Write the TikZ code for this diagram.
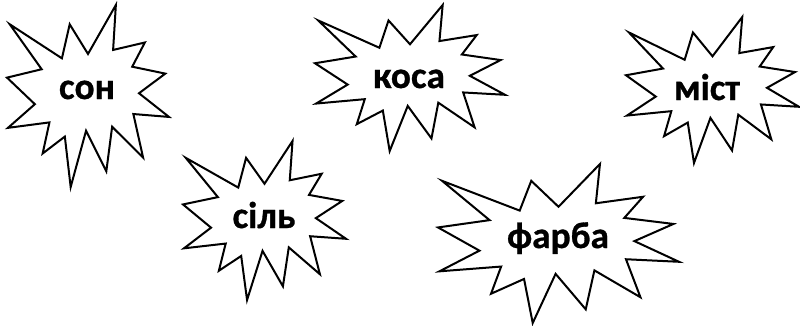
\documentclass[tikz,border=0pt]{standalone}
\usepackage{fontspec}
\setmainfont{Carlito}[BoldFeatures={FakeBold=0.8}]
\usepackage{tikz}

% explosion outline, bounding box given by left, top, width, height (in px)
\newcommand{\explosion}[4]{%
  \draw[burst, shift={(#1,#2)}, x={(#3*0.75pt,0pt)}, y={(0pt,-#4*0.75pt)}]
    (0.500,0.269) -- (0.672,0.000) -- (0.655,0.247) -- (0.851,0.206)
    -- (0.773,0.339) -- (0.977,0.377) -- (0.815,0.485) -- (1.000,0.615)
    -- (0.780,0.599) -- (0.840,0.838) -- (0.649,0.669) -- (0.613,0.914)
    -- (0.488,0.691) -- (0.393,1.000) -- (0.357,0.723) -- (0.220,0.816)
    -- (0.262,0.645) -- (0.006,0.675) -- (0.172,0.545) -- (0.000,0.399)
    -- (0.214,0.353) -- (0.017,0.106) -- (0.339,0.293) -- (0.387,0.106)
    -- cycle;
}

\begin{document}
\begin{tikzpicture}[x=0.75pt, y=-0.75pt]
	% Define styles for bursts and words
	\tikzset{
		burst/.style={
			draw=black,
			fill=white,
			line width=1.5pt,
			line join=miter
		},
		word/.style={
			anchor=base,
			inner sep=0pt,
			font=\fontsize{28}{34}\selectfont\bfseries
		}
	}
	\useasboundingbox (0,0) rectangle (800,325);
	
	% Bursts
	\explosion{7}{5}{162}{182}
	\explosion{315}{5}{190}{146}
	\explosion{626}{17}{173}{146}
	\explosion{183}{141}{163}{159}
	\explosion{438}{164}{241}{159}
	
	% Words
	\node[word] (son) at (87,99) {сон};
	\node[word] (kosa) at (409,88) {коса};
	\node[word] (mist) at (707,100) {міст};
	\node[word] (sil) at (264,228) {сіль};
	\node[word] (farba) at (558,248) {фарба};
\end{tikzpicture}
\end{document}
